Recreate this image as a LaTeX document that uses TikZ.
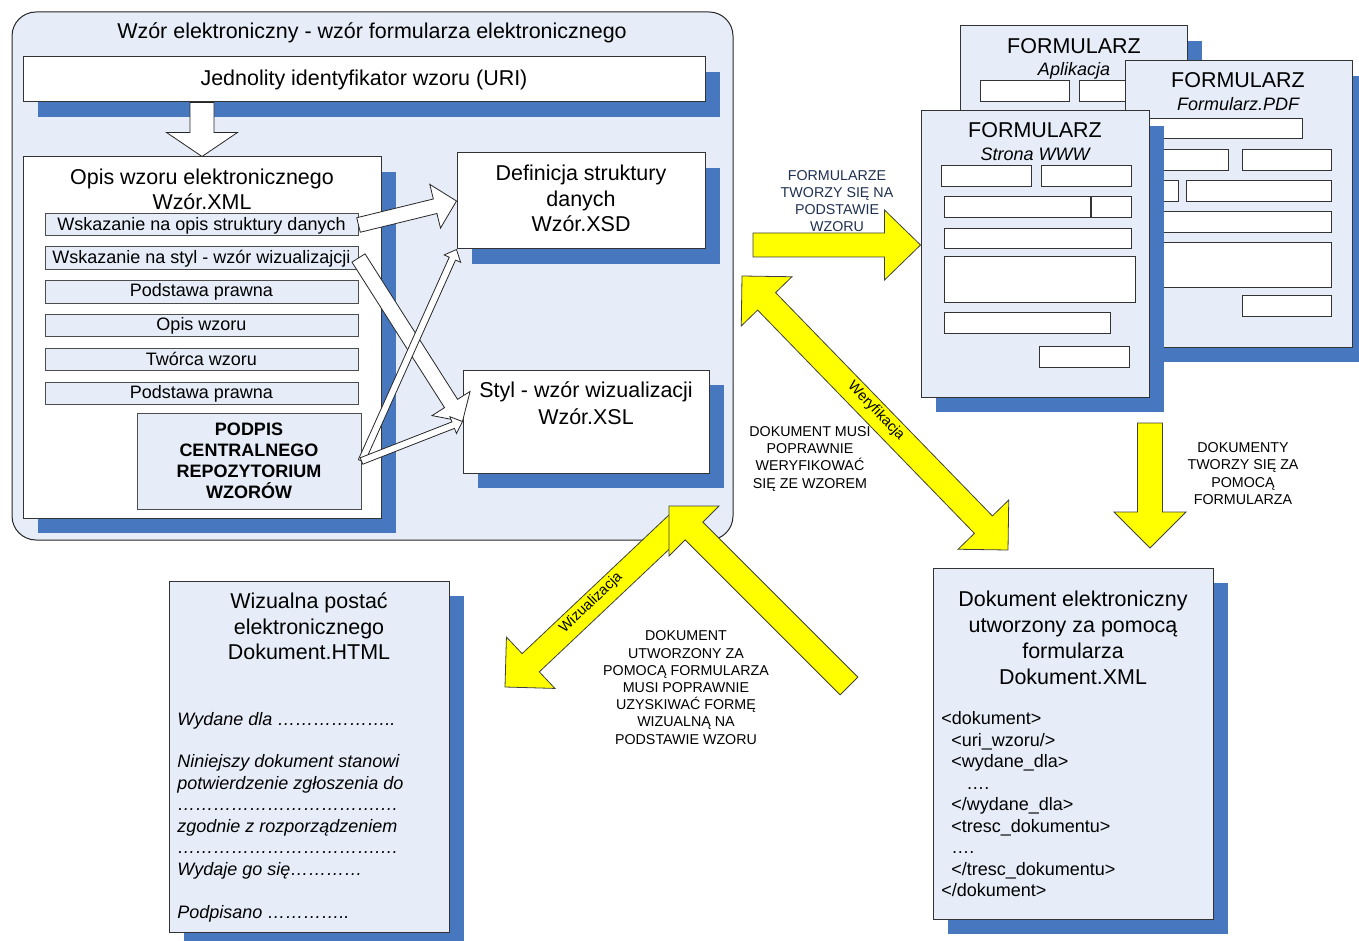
\documentclass[tikz,border=0pt]{standalone}
\usepackage{fontspec}
\setmainfont{Liberation Sans}
\usetikzlibrary{calc,fit,shadows}

\definecolor{lblue}{RGB}{230,237,248}
\definecolor{sblue}{RGB}{71,120,191}
\definecolor{navy}{RGB}{31,48,80}
\definecolor{ybright}{RGB}{255,255,0}

\newcommand\lstrut{\rule[-0.10em]{0pt}{0.90em}}
\newcommand\ee{…}
\newcommand\fbig{\fontsize{16.1pt}{19.3pt}\selectfont}
\newcommand\fmid{\fontsize{13.5pt}{16.1pt}\selectfont}
\newcommand\flab{\fontsize{10.7pt}{12.9pt}\selectfont}

% #1 name, #2 style, #3 tail, #4 tip, #5 shaft half width, #6 head half width, #7 head length
\newcommand\blockarr[7]{%
  \coordinate (#1-b) at ($(#4)!#7!(#3)$);
  \draw[#2] ($(#3)!#5!90:(#4)$) -- ($(#1-b)!#5!90:(#4)$) -- ($(#1-b)!#6!90:(#4)$) -- (#4)
    -- ($(#1-b)!#6!-90:(#4)$) -- ($(#1-b)!#5!-90:(#4)$) -- ($(#3)!#5!-90:(#4)$) -- cycle;
}
\newcommand\dblarr[7]{%
  \coordinate (#1-a) at ($(#3)!#7!(#4)$);
  \coordinate (#1-b) at ($(#4)!#7!(#3)$);
  \draw[#2] (#3) -- ($(#1-a)!#6!90:(#4)$) -- ($(#1-a)!#5!90:(#4)$) -- ($(#1-b)!#5!90:(#4)$)
    -- ($(#1-b)!#6!90:(#4)$) -- (#4) -- ($(#1-b)!#6!-90:(#4)$) -- ($(#1-b)!#5!-90:(#4)$)
    -- ($(#1-a)!#5!-90:(#4)$) -- ($(#1-a)!#6!-90:(#4)$) -- cycle;
}

\begin{document}
\begin{tikzpicture}[x=0.75pt, y=-0.75pt,
  shadowed/.style={drop shadow={shadow xshift=11.4pt, shadow yshift=-11.4pt, fill=sblue, opacity=1}},
  box/.style={draw=black!80, line width=0.75pt, inner sep=0pt},
  wbox/.style={box, fill=white},
  bbox/.style={box, fill=lblue},
  sub/.style={draw=black!70, line width=0.75pt, fill=lblue, inner sep=0pt},
  field/.style={draw=black!80, line width=0.75pt, fill=white},
  txt/.style={inner sep=0pt, execute at begin node=\lstrut},
  mtxt/.style={inner sep=0pt, align=center},
  ltxt/.style={inner sep=0pt, align=left, anchor=west},
  yarr/.style={fill=ybright, draw=black!75, line width=0.6pt},
  warr/.style={fill=white, draw=black!85, line width=0.6pt},
]
\useasboundingbox (0,0) rectangle (1359,941);

% ---------- main container ----------
\node[bbox, rounded corners=18pt, draw=black!85, fit={(12,12) (733,540)}] (main) {};
\node[txt, font=\fbig] (maintitle) at (372,32) {Wzór elektroniczny - wzór formularza elektronicznego};

\node[wbox, shadowed, fit={(23,57) (705,102)}] (uri) {};
\node[txt, font=\fbig] (uritext) at (364,79) {Jednolity identyfikator wzoru (URI)};

\node[wbox, shadowed, fit={(23,157) (381,518)}] (opis) {};
\node[mtxt, font=\fbig] (opistext) at (202,189.5) {\lstrut Opis wzoru elektronicznego\\\lstrut Wzór.XML};

\node[sub, fit={(45,214) (358,236)}] (s1) {};
\node[txt, font=\fmid] (s1t) at (s1.center) {Wskazanie na opis struktury danych};
\node[sub, fit={(45,247) (358,269)}] (s2) {};
\node[txt, font=\fmid] (s2t) at (s2.center) {Wskazanie na styl - wzór wizualizajcji};
\node[sub, fit={(45,280) (358,303)}] (s3) {};
\node[txt, font=\fmid] (s3t) at (s3.center) {Podstawa prawna};
\node[sub, fit={(45,314) (358,336)}] (s4) {};
\node[txt, font=\fmid] (s4t) at (s4.center) {Opis wzoru};
\node[sub, fit={(45,348) (358,370)}] (s5) {};
\node[txt, font=\fmid] (s5t) at (s5.center) {Twórca wzoru};
\node[sub, fit={(45,382) (358,404)}] (s6) {};
\node[txt, font=\fmid] (s6t) at (s6.center) {Podstawa prawna};

\node[sub, fit={(137,413) (361,509)}] (podpis) {};
\node[mtxt, font=\fontsize{13.5pt}{15.8pt}\selectfont\bfseries] (podpistext) at (249,460.5)
  {\lstrut PODPIS\\\lstrut CENTRALNEGO\\\lstrut REPOZYTORIUM\\\lstrut WZORÓW};

\node[wbox, shadowed, fit={(457,153) (705,249)}] (xsd) {};
\node[mtxt, font=\fbig] (xsdtext) at (581,198.5) {\lstrut Definicja struktury\\\lstrut danych\\\lstrut Wzór.XSD};

\node[wbox, shadowed, fit={(463,370) (709,473)}] (xsl) {};
\node[mtxt, font=\fontsize{16.1pt}{20pt}\selectfont] (xsltext) at (586,403.5) {\lstrut Styl - wzór wizualizacji\\\lstrut Wzór.XSL};

% ---------- white arrows ----------
\coordinate (uridown) at (opis.north |- uri.south);
\blockarr{a0}{warr}{uridown}{opis.north}{9pt}{26.6pt}{18pt}
\blockarr{a1}{warr}{s1.east}{xsd.west}{5.6pt}{16.9pt}{16.5pt}
\blockarr{a2}{warr}{s2.east}{xsl.west}{5.8pt}{16.9pt}{16pt}
\blockarr{a3}{warr}{podpis.east}{xsd.south west}{2.6pt}{6.75pt}{7.5pt}
\blockarr{a4}{warr}{podpis.east}{xsl.west}{2.6pt}{6.75pt}{7.5pt}

% ---------- form cards ----------
\node[bbox, shadowed, fit={(960,26) (1187,312)}] (app) {};
\draw[field] (980,81) rectangle (1069,102);
\draw[field] (1079,81) rectangle (1169,102);
\node[txt, font=\fbig] (apptitle) at (1074,46) {FORMULARZ};
\node[txt, font=\fmid\itshape] (appsub) at (1074,70) {Aplikacja};

\node[bbox, shadowed, fit={(1125,61) (1352,347)}] (pdf) {};
\draw[field] (1145,119) rectangle (1302,139);
\draw[field] (1145,150) rectangle (1228,171);
\draw[field] (1242,150) rectangle (1331,171);
\draw[field] (1145,181) rectangle (1178,202);
\draw[field] (1186,181) rectangle (1331,202);
\draw[field] (1145,212) rectangle (1331,233);
\draw[field] (1145,243) rectangle (1331,287);
\draw[field] (1242,295) rectangle (1331,316);
\node[txt, font=\fbig] (pdftitle) at (1238,80) {FORMULARZ};
\node[txt, font=\fmid\itshape] (pdfsub) at (1238,104) {Formularz.PDF};

\node[bbox, shadowed, fit={(921,111) (1149,397)}] (www) {};
\draw[field] (941,166) rectangle (1031,187);
\draw[field] (1041,166) rectangle (1131,187);
\draw[field] (944,197) rectangle (1090,218);
\draw[field] (1091,197) rectangle (1131,218);
\draw[field] (944,229) rectangle (1131,249);
\draw[field] (944,257) rectangle (1135,302);
\draw[field] (944,312) rectangle (1110,333);
\draw[field] (1039,346) rectangle (1129,367);
\node[txt, font=\fbig] (wwwtitle) at (1035,130) {FORMULARZ};
\node[txt, font=\fmid\itshape] (wwwsub) at (1035,154) {Strona WWW};

% ---------- HTML document ----------
\node[bbox, shadowed, fit={(169,581) (449,932)}] (html) {};
\node[mtxt, font=\fbig] (htmltitle) at (309,626.5) {\lstrut Wizualna postać\\\lstrut elektronicznego\\\lstrut Dokument.HTML};
\node[ltxt, font=\fmid\itshape] (htmlbody) at (177,816.3) {%
  \lstrut Wydane dla \ee\ee\ee\ee\ee\ee..\\
  \lstrut\\
  \lstrut Niniejszy dokument stanowi\\
  \lstrut potwierdzenie zgłoszenia do\\
  \lstrut \ee\ee\ee\ee\ee\ee\ee\ee\ee\ee\ee.\ee\\
  \lstrut zgodnie z rozporządzeniem\\
  \lstrut \ee\ee\ee\ee\ee\ee\ee\ee\ee\ee\ee.\ee\\
  \lstrut Wydaje go się\ee\ee\ee\ee\\
  \lstrut\\
  \lstrut Podpisano \ee\ee\ee\ee..};

% ---------- XML document ----------
\node[bbox, shadowed, fit={(933,568) (1213,919)}] (xmldoc) {};
\node[mtxt, font=\fontsize{16.1pt}{19.5pt}\selectfont] (xmltitle) at (1073,638)
  {\lstrut Dokument elektroniczny\\\lstrut utworzony za pomocą\\\lstrut formularza\\\lstrut Dokument.XML};
\node[ltxt, font=\fmid] (xmlcode) at (941,804.3) {%
  \lstrut <dokument>\\
  \lstrut\hspace*{7.5pt}<uri\_wzoru/>\\
  \lstrut\hspace*{7.5pt}<wydane\_dla>\\
  \lstrut\hspace*{18.75pt}….\\
  \lstrut\hspace*{7.5pt}</wydane\_dla>\\
  \lstrut\hspace*{7.5pt}<tresc\_dokumentu>\\
  \lstrut\hspace*{7.5pt}….\\
  \lstrut\hspace*{7.5pt}</tresc\_dokumentu>\\
  \lstrut </dokument>};

% ---------- yellow arrows ----------
\coordinate (rtail) at (753,245);
\blockarr{y1}{yarr}{rtail}{www.west |- rtail}{9pt}{26.25pt}{27pt}
\coordinate (dtail) at (1150,423);
\coordinate (dtip) at (1150,548);
\blockarr{y2}{yarr}{dtail}{dtip}{9.4pt}{27pt}{27pt}
\coordinate (ver1) at (742,276);
\coordinate (ver2) at (1008,550);
\dblarr{y3}{yarr}{ver1}{ver2}{9.4pt}{26.5pt}{26.5pt}
\coordinate (viztail) at (684,518);
\coordinate (viztip) at (505,687);
\blockarr{y4}{yarr}{viztail}{viztip}{9.4pt}{26.5pt}{26.5pt}
\coordinate (doctail) at (849,686);
\coordinate (doctip) at (669,506);
\blockarr{y5}{yarr}{doctail}{doctip}{9.4pt}{26.5pt}{26.5pt}

% ---------- labels ----------
\node[mtxt, font=\flab, text=navy] (lab1) at (837,201)
  {\lstrut FORMULARZE\\\lstrut TWORZY SIĘ NA\\\lstrut PODSTAWIE\\\lstrut WZORU};
\node[mtxt, font=\flab] (lab2) at (810,458)
  {\lstrut DOKUMENT MUSI\\\lstrut POPRAWNIE\\\lstrut WERYFIKOWAĆ\\\lstrut SIĘ ZE WZOREM};
\node[mtxt, font=\flab] (lab3) at (686,687.5)
  {\lstrut DOKUMENT\\\lstrut UTWORZONY ZA\\\lstrut POMOCĄ FORMULARZA\\\lstrut MUSI POPRAWNIE\\\lstrut UZYSKIWAĆ FORMĘ\\\lstrut WIZUALNĄ NA\\\lstrut PODSTAWIE WZORU};
\node[mtxt, font=\flab] (lab4) at (1243,473.5)
  {\lstrut DOKUMENTY\\\lstrut TWORZY SIĘ ZA\\\lstrut POMOCĄ\\\lstrut FORMULARZA};
\node[inner sep=0pt, font=\fontsize{10.9pt}{13pt}\selectfont, rotate=-45.85] (lver) at (876,411) {Weryfikacja};
\node[inner sep=0pt, font=\fontsize{10.9pt}{13pt}\selectfont, rotate=43.9] (lviz) at (591,603) {Wizualizacja};

\end{tikzpicture}
\end{document}
